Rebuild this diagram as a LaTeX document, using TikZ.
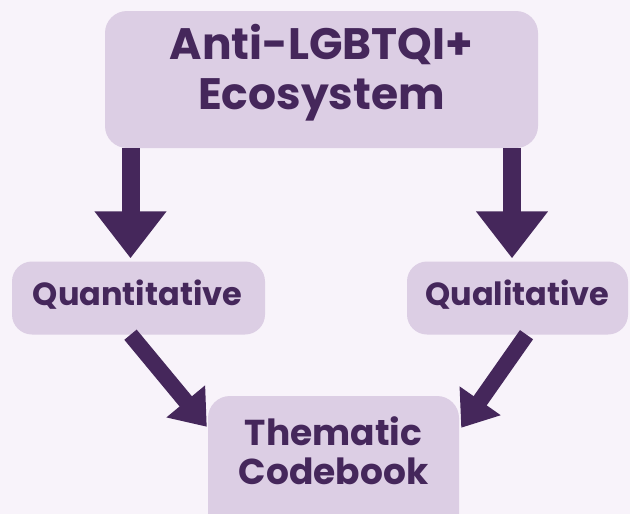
\documentclass[tikz,border=0pt]{standalone}
\usepackage{fontspec}
\setmainfont{Poppins}
\usetikzlibrary{arrows.meta, calc}
\definecolor{bgpink}{HTML}{F8F3FA}
\definecolor{boxlilac}{HTML}{DCCEE4}
\definecolor{plum}{HTML}{45275B}
\tikzset{
  box/.style={fill=boxlilac, rounded corners=22pt, inner sep=0pt},
  boxtext/.style={text=plum, align=center, inner sep=0pt},
  bigarrow/.style={draw=plum, line width=18pt, -{Triangle[length=47pt, width=69pt]}},
  slantarrow/.style={draw=plum, line width=16pt, -{Triangle[length=33pt, width=48pt]}}
}
\begin{document}
\begin{tikzpicture}[x=1pt, y=-1pt]
  % canvas
  \fill[bgpink] (0,0) rectangle (630,514);
  \useasboundingbox (0,0) rectangle (630,514);

  % Boxes
  \node[box, minimum width=433pt, minimum height=137pt] (eco) at (321.5,79.5) {};
  \node[boxtext, font=\bfseries\fontsize{44}{50}\selectfont] (ecotext) at ($(eco.center)+(0,-7)$) {Anti-LGBTQI+\\Ecosystem};
  \node[box, rounded corners=20pt, minimum width=253pt, minimum height=73pt] (quan) at (138.5,298) {};
  \node[boxtext, font=\bfseries\fontsize{32}{36}\selectfont] (quantext) at ($(quan.center)+(-1,-3)$) {Quantitative};
  \node[box, rounded corners=20pt, minimum width=221pt, minimum height=73pt] (qual) at (517.5,298) {};
  \node[boxtext, font=\bfseries\fontsize{32}{36}\selectfont] (qualtext) at ($(qual.center)+(0,-3)$) {Qualitative};
  \node[box, minimum width=251pt, minimum height=140pt] (them) at (333.5,466) {};
  \node[boxtext, font=\bfseries\fontsize{36}{39}\selectfont] (themtext) at ($(them.center)+(0,-15)$) {Thematic\\Codebook};

  % Arrows
  \draw[bigarrow] (eco.south -| 130.5,0) -- ($(quan.north)+(-8,-3)$);
  \draw[bigarrow] (eco.south -| 512,0) -- ($(qual.north)+(-5.5,-3)$);
  \draw[slantarrow] ($(quan.south)+(-8,0)$) -- ($(them.north west)+(-1,31)$);
  \draw[slantarrow] ($(qual.south)+(9,0)$) -- ($(them.north east)+(2,32)$);
\end{tikzpicture}
\end{document}
